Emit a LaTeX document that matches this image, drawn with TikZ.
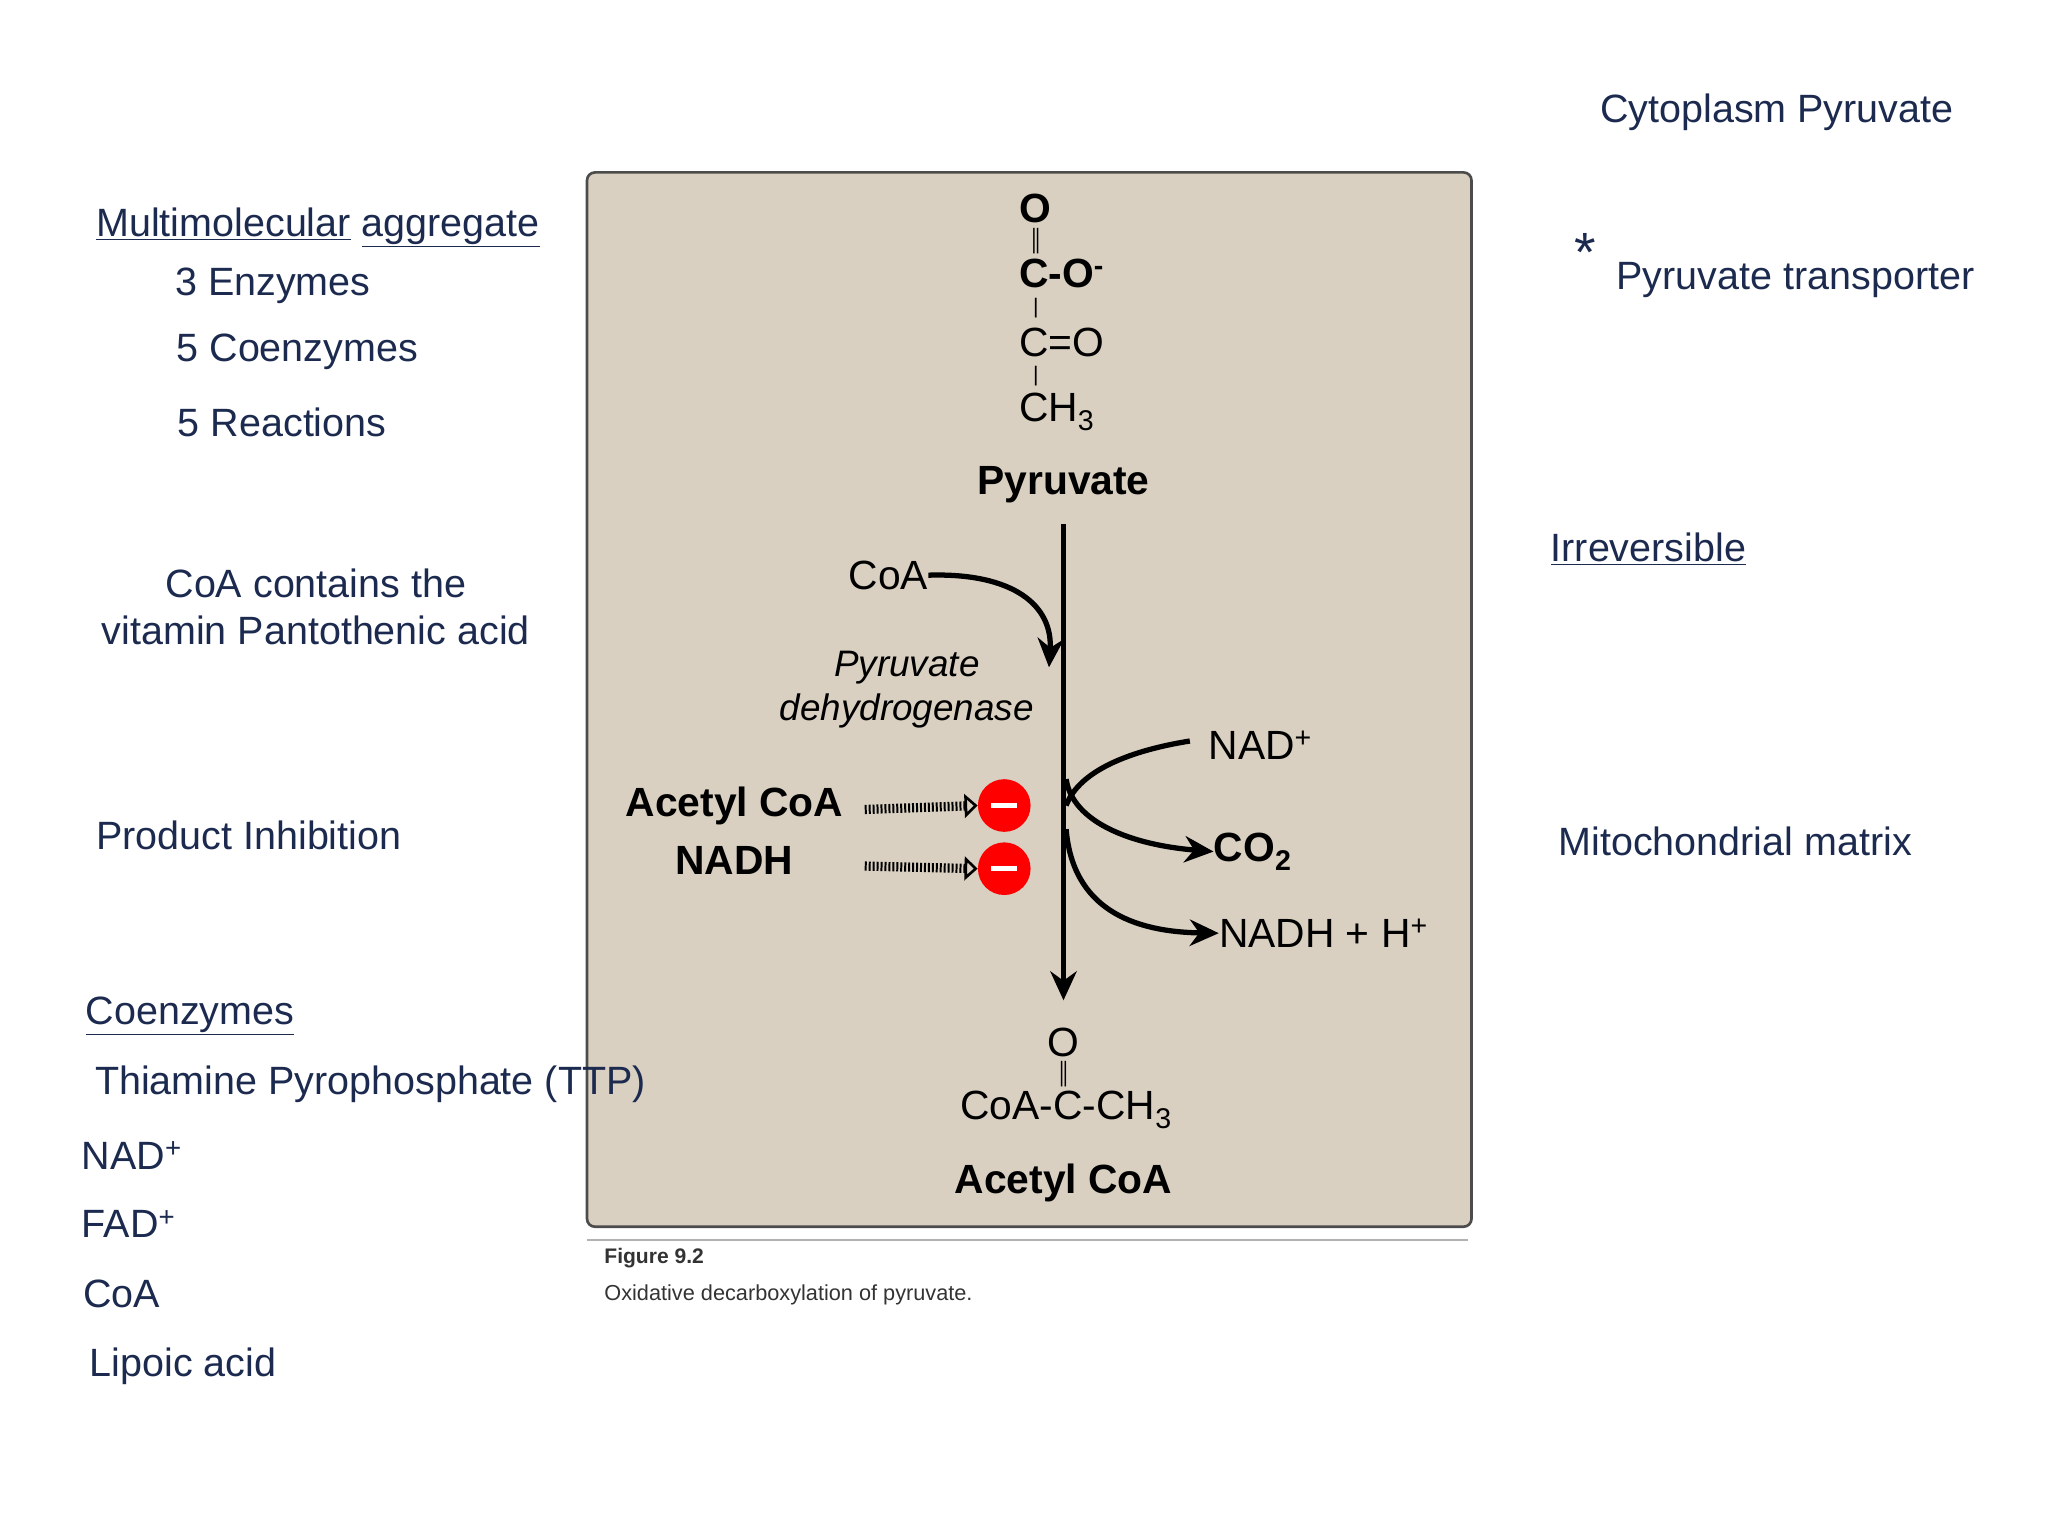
\documentclass[tikz,border=0pt]{standalone}
\usepackage{fontspec}
\setmainfont{Liberation Sans}
\usetikzlibrary{arrows.meta}
\definecolor{navy}{HTML}{1B2A4E}
\definecolor{boxfill}{HTML}{D9D0C1}
\begin{document}
\begin{tikzpicture}[x=1pt,y=-1pt,
  side/.style={text=navy,font=\fontsize{30}{36}\selectfont,anchor=west,inner sep=0},
  chem/.style={text=black,font=\fontsize{31}{36}\selectfont,inner sep=0},
  bchem/.style={text=black,font=\fontsize{31}{36}\selectfont\bfseries,inner sep=0},
  arr/.style={line width=4pt,-{Stealth[length=22pt,width=20pt]}},
  dots/.style={line width=7pt,dash pattern=on 1.5pt off 1.5pt,-{Stealth[length=10pt,width=18pt,inset=0pt,open,line width=2pt]}},
  inh/.style={circle,fill=red,minimum size=40pt,inner sep=0}]
\useasboundingbox (0,0) rectangle (1556,1167);
% box
\draw[fill=boxfill,draw=black!70,line width=2pt,rounded corners=6pt] (446,131) rectangle (1118,932);
% side texts
\node[side,anchor=center] (cyt) at (1350,85) {Cytoplasm Pyruvate};
\node[side] (star) at (1196,192) {\fontsize{42}{42}\selectfont *};
\node[side] (tr) at (1228,213) {Pyruvate transporter};
\node[side] (irr) at (1178,417) {\underline{Irreversible}};
\node[side] (mm) at (1184,639) {Mitochondrial matrix};
\node[side] (ma) at (73,173) {\underline{Multimolecular} \underline{aggregate}};
\node[side] (e3) at (133,217) {3 Enzymes};
\node[side] (c5) at (134,267) {5 Coenzymes};
\node[side] (r5) at (135,321) {5 Reactions};
\node[side,anchor=center,align=center] (coa) at (240,461) {CoA contains the\\vitamin Pantothenic acid};
\node[side] (pi) at (73,635) {Product Inhibition};
\node[side] (co) at (65,772) {\underline{Coenzymes}};
\node[side] (ttp) at (72,824) {Thiamine Pyrophosphate (TTP)};
\node[side] (nad) at (62,878) {NAD\textsuperscript{+}};
\node[side] (fad) at (62,930) {FAD\textsuperscript{+}};
\node[side] (coa2) at (63,983) {CoA};
\node[side] (lip) at (68,1038) {Lipoic acid};
% pyruvate
\node[bchem] (o1) at (787,158) {O};
\node[chem] at (787,183) {\fontsize{16}{16}\selectfont ║};
\node[bchem,anchor=west] (c1) at (774,208) {C-O\textsuperscript{-}};
\node[chem] at (787,234) {\fontsize{16}{16}\selectfont |};
\node[chem,anchor=west] (c2) at (774,260) {C=O};
\node[chem] at (787,286) {\fontsize{16}{16}\selectfont |};
\node[chem,anchor=west] (c3) at (774,313) {CH\textsubscript{3}};
\node[bchem] (pyr) at (808,368) {Pyruvate};
\coordinate (top) at (808,398);
\coordinate (bot) at (808,760);
\draw[arr] (top) -- (bot);
\node[chem] (coaa) at (675,437) {CoA};
\coordinate (coaend) at (797,507);
\draw[arr] (coaa.east) .. controls (770,435) and (800,460) .. (coaend);
\node[chem,font=\fontsize{28}{33}\selectfont\itshape,align=center] (pdh) at (689,524) {Pyruvate\\dehydrogenase};
\node[bchem] (ac) at (558,612) {Acetyl CoA};
\node[bchem] (nadh) at (558,654) {NADH};
\node[inh] (m1) at (763,612) {};
\node[inh] (m2) at (763,660) {};
\draw[white,line width=4pt] (753,612) -- (773,612) (753,660) -- (773,660);
\coordinate (d1) at (657,615); \coordinate (d2) at (657,658);
\draw[dots] (d1) -- (m1.west);
\draw[dots] (d2) -- (m2.west);
\node[chem,anchor=west] (nadp) at (918,566) {NAD\textsuperscript{+}};
\coordinate (ns) at (904,563);
\draw[line width=4pt] (ns) .. controls (860,570) and (820,585) .. (810,612);
\node[bchem,anchor=west] (co2) at (922,647) {CO\textsubscript{2}};
\draw[arr] (810,592) .. controls (815,625) and (860,642) .. (co2.west);
\node[chem,anchor=west] (nadhh) at (926,709) {NADH + H\textsuperscript{+}};
\draw[arr] (810,630) .. controls (815,690) and (860,708) .. (nadhh.west);
% acetyl coa
\node[chem] (o2) at (808,792) {O};
\node[chem] at (808,816) {\fontsize{16}{16}\selectfont ║};
\node[chem] (acs) at (810,843) {CoA-C-CH\textsubscript{3}};
\node[bchem] (acn) at (808,899) {Acetyl CoA};
% caption
\draw[black!30,line width=2pt] (446,942) -- (1115,942);
\node[anchor=west,inner sep=0,font=\fontsize{16}{18}\selectfont\bfseries,text=black!80] (fig) at (459,956) {Figure 9.2};
\node[anchor=west,inner sep=0,font=\fontsize{16.5}{18}\selectfont,text=black!80] (cap) at (459,984) {Oxidative decarboxylation of pyruvate.};
\end{tikzpicture}
\end{document}
